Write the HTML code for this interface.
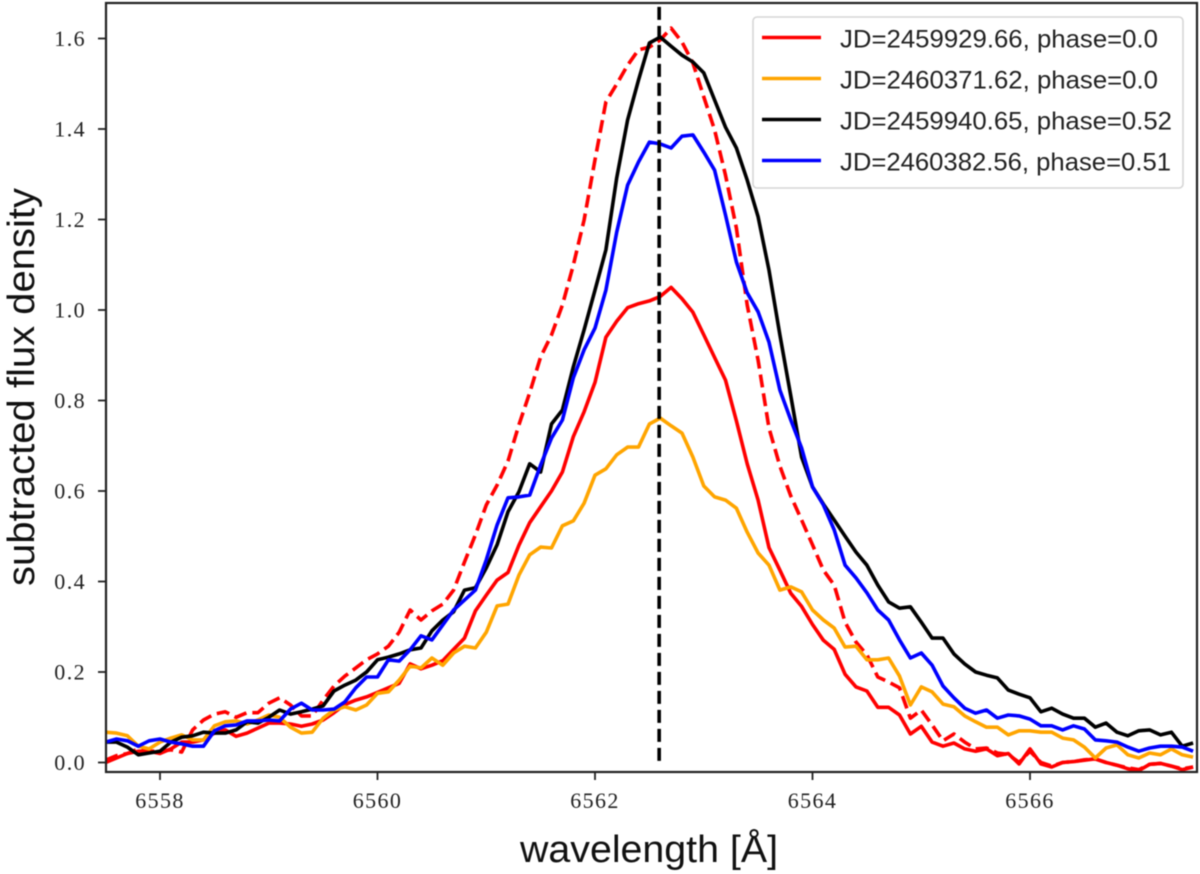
<!DOCTYPE html>
<html lang="en">
<head>
<meta charset="utf-8">
<title>Subtracted flux density vs wavelength</title>
<style>
html,body{margin:0;padding:0;background:#fff;}
#chart{display:block;width:1200px;height:874px;filter:blur(0.45px);}
.tick-label{font-family:"Liberation Serif",serif;font-size:22px;fill:#222;letter-spacing:1.4px;}
.axis-title{font-family:"Liberation Sans",sans-serif;font-size:38px;fill:#111;}
.legend-text{font-family:"Liberation Sans",sans-serif;font-size:25px;fill:#222;}
</style>
</head>
<body>
<svg id="chart" xmlns="http://www.w3.org/2000/svg" width="1200" height="874" viewBox="0 0 1200 874">
  <defs>
    <clipPath id="plot-clip"><rect x="107" y="3" width="1090" height="769"></rect></clipPath>
  </defs>
  <rect x="0" y="0" width="1200" height="874" fill="#fff"></rect>
  <g id="series-layer" clip-path="url(#plot-clip)"></g>
  <rect x="106" y="3" width="1091" height="769" fill="none" stroke="#222" stroke-width="2.2"></rect>
  <g id="x-ticks"></g>
  <g id="y-ticks"></g>
  <text class="axis-title" x="520" y="862" textLength="258" lengthAdjust="spacingAndGlyphs">wavelength [Å]</text>
  <text class="axis-title" transform="translate(34,586) rotate(-90)" x="0" y="0" textLength="398" lengthAdjust="spacingAndGlyphs">subtracted flux density</text>
  <g>
    <rect x="753" y="17" width="430" height="171" rx="4" ry="4" fill="#fff" fill-opacity="0.85" stroke="#d6d6d6" stroke-width="1.6"></rect>
    <g>
      <line x1="762" x2="821" y1="37.5" y2="37.5" stroke="#ff0000" stroke-width="3.6"></line>
      <text class="legend-text" x="840" y="47.5" textLength="318" lengthAdjust="spacingAndGlyphs">JD=2459929.66, phase=0.0</text>
    </g>
    <g>
      <line x1="762" x2="821" y1="78.5" y2="78.5" stroke="#ffa500" stroke-width="3.6"></line>
      <text class="legend-text" x="840" y="88.5" textLength="318" lengthAdjust="spacingAndGlyphs">JD=2460371.62, phase=0.0</text>
    </g>
    <g>
      <line x1="762" x2="821" y1="119.5" y2="119.5" stroke="#000" stroke-width="3.6"></line>
      <text class="legend-text" x="840" y="129.5" textLength="332" lengthAdjust="spacingAndGlyphs">JD=2459940.65, phase=0.52</text>
    </g>
    <g>
      <line x1="762" x2="821" y1="160.5" y2="160.5" stroke="#0000ff" stroke-width="3.6"></line>
      <text class="legend-text" x="840" y="170.5" textLength="331" lengthAdjust="spacingAndGlyphs">JD=2460382.56, phase=0.51</text>
    </g>
  </g>
</svg>
<script>
const wavelengths = [6557.5,6557.6,6557.7,6557.8,6557.9,6558.0,6558.1,6558.2,6558.3,6558.4,
6558.5,6558.6,6558.7,6558.8,6558.9,6559.0,6559.1,6559.2,6559.3,6559.4,
6559.5,6559.6,6559.7,6559.8,6559.9,6560.0,6560.1,6560.2,6560.3,6560.4,
6560.5,6560.6,6560.7,6560.8,6560.9,6561.0,6561.1,6561.2,6561.3,6561.4,
6561.5,6561.6,6561.7,6561.8,6561.9,6562.0,6562.1,6562.2,6562.3,6562.4,
6562.5,6562.6,6562.7,6562.8,6562.9,6563.0,6563.1,6563.2,6563.3,6563.4,
6563.5,6563.6,6563.7,6563.8,6563.9,6564.0,6564.1,6564.2,6564.3,6564.4,
6564.5,6564.6,6564.7,6564.8,6564.9,6565.0,6565.1,6565.2,6565.3,6565.4,
6565.5,6565.6,6565.7,6565.8,6565.9,6566.0,6566.1,6566.2,6566.3,6566.4,
6566.5,6566.6,6566.7,6566.8,6566.9,6567.0,6567.1,6567.2,6567.3,6567.4,6567.5];

const fluxRedDashed = [.005,.015,.02,.03,.025,.025,.028,.023,.072,.094,
.107,.112,.10,.11,.11,.131,.143,.127,.103,.103,
.138,.169,.191,.209,.227,.24,.257,.288,.337,.315,
.335,.35,.381,.443,.503,.569,.613,.666,.746,.817,
.896,.945,1.011,1.099,1.199,1.332,1.46,1.499,1.541,1.575,
1.581,1.597,1.623,1.592,1.546,1.471,1.398,1.298,1.181,1.011,
.889,.739,.655,.589,.536,.481,.425,.392,.31,.266,
.238,.189,.178,.165,.098,.116,.083,.048,.063,.045,
.03,.032,.021,.018,0,.025,0,-.008,0,.002,
.006,.008,0,-.006,-.012,-.016,-.004,-.002,-.008,-.014,-.01];

const fluxRed = [0,.01,.02,.025,.025,.02,.03,.045,.045,.05,
.065,.072,.058,.065,.076,.087,.087,.085,.08,.085,
.094,.11,.128,.138,.145,.155,.165,.175,.218,.207,
.215,.225,.25,.275,.335,.37,.403,.42,.48,.53,
.565,.60,.642,.72,.775,.84,.94,.975,1.005,1.014,
1.02,1.03,1.05,1.025,.995,.945,.895,.845,.755,.66,
.58,.475,.425,.374,.345,.305,.27,.25,.195,.167,
.158,.122,.122,.105,.063,.08,.045,.036,.043,.03,
.025,.03,.015,.02,-.003,.03,-.003,-.01,0,.002,
.005,.008,0,-.006,-.014,-.018,-.004,-.002,-.008,-.016,-.01];

const fluxOrange = [.067,.065,.059,.036,.03,.045,.054,.061,.05,.05,
.081,.09,.092,.085,.094,.105,.10,.078,.065,.067,
.098,.116,.123,.116,.127,.153,.156,.182,.213,.209,
.231,.215,.242,.257,.253,.288,.346,.35,.414,.459,
.476,.474,.523,.534,.573,.635,.649,.68,.697,.697,
.748,.761,.744,.728,.675,.611,.587,.58,.562,.509,
.463,.436,.381,.388,.377,.337,.315,.297,.255,.257,
.227,.227,.231,.191,.127,.167,.156,.129,.123,.103,
.09,.078,.078,.061,.07,.07,.067,.067,.054,.05,
.034,.01,.032,.039,.017,.01,.021,.017,.03,.017,.012];

const fluxBlack = [.045,.045,.034,.017,.021,.025,.045,.056,.059,.067,
.065,.065,.072,.09,.087,.10,.116,.107,.112,.118,
.125,.158,.171,.182,.20,.227,.233,.24,.249,.253,
.291,.315,.333,.381,.386,.43,.481,.554,.598,.66,
.642,.748,.779,.874,.956,1.044,1.133,1.292,1.42,1.508,
1.59,1.603,1.583,1.563,1.548,1.524,1.464,1.404,1.358,1.287,
1.206,1.088,.945,.81,.675,.609,.571,.536,.50,.465,
.436,.392,.355,.341,.344,.31,.275,.275,.24,.218,
.20,.193,.187,.16,.151,.143,.112,.12,.107,.098,
.098,.078,.087,.067,.059,.07,.072,.061,.067,.036,.043];

const fluxBlue = [.045,.052,.048,.036,.048,.052,.045,.041,.036,.036,
.07,.081,.083,.092,.092,.094,.092,.118,.131,.116,
.116,.118,.134,.165,.189,.189,.227,.224,.249,.28,
.271,.304,.337,.359,.381,.448,.525,.585,.587,.591,
.657,.717,.757,.85,.912,.96,1.044,1.172,1.276,1.327,
1.371,1.367,1.358,1.384,1.387,1.349,1.309,1.21,1.106,1.038,
.996,.929,.823,.757,.695,.609,.569,.514,.436,.408,
.375,.337,.315,.271,.231,.242,.215,.169,.143,.12,
.109,.116,.098,.105,.103,.096,.081,.081,.072,.081,
.074,.05,.048,.045,.034,.025,.032,.036,.036,.034,.025];

const xTickValues = [6558,6560,6562,6564,6566];
const yTickValues = [0.0,0.2,0.4,0.6,0.8,1.0,1.2,1.4,1.6];
const restWavelength = [6562.59];

const SVG_NS = 'http://www.w3.org/2000/svg';
function xScale(w){ return 160 + (w - 6558) * 108.75; }
function yScale(v){ return 762.5 - v * 452.5; }

const seriesLayer = document.getElementById('series-layer');
function drawSeries(values, color, name, dash){
  const line = document.createElementNS(SVG_NS, 'polyline');
  
  
  const pts = [];
  for (let i = 0; i < values.length; i++){
    pts.push(xScale(wavelengths[i]).toFixed(1) + ',' + yScale(values[i]).toFixed(1));
  }
  line.setAttribute('points', pts.join(' '));
  line.setAttribute('fill', 'none');
  line.setAttribute('stroke', color);
  line.setAttribute('stroke-width', '3.6');
  line.setAttribute('stroke-linejoin', 'round');
  if (dash) line.setAttribute('stroke-dasharray', dash);
  seriesLayer.appendChild(line);
}
drawSeries(fluxRedDashed, '#ff0000', 'line-jd-2459929-dashed', '13 6');
drawSeries(fluxRed, '#ff0000', 'line-jd-2459929');
drawSeries(fluxOrange, '#ffa500', 'line-jd-2460371');
drawSeries(fluxBlack, '#000000', 'line-jd-2459940');
drawSeries(fluxBlue, '#0000ff', 'line-jd-2460382');

restWavelength.forEach(function(w){
  const v = document.createElementNS(SVG_NS, 'line');
  
  
  v.setAttribute('x1', xScale(w));
  v.setAttribute('x2', xScale(w));
  v.setAttribute('y1', yScale(1.67));
  v.setAttribute('y2', yScale(0));
  v.setAttribute('stroke', '#000');
  v.setAttribute('stroke-width', '3.6');
  v.setAttribute('stroke-dasharray', '13 6');
  seriesLayer.appendChild(v);
});

const xTicks = document.getElementById('x-ticks');
xTickValues.forEach(function(t){
  const m = document.createElementNS(SVG_NS, 'line');
  
  
  m.setAttribute('x1', xScale(t));
  m.setAttribute('x2', xScale(t));
  m.setAttribute('y1', 772);
  m.setAttribute('y2', 780);
  m.setAttribute('stroke', '#222');
  m.setAttribute('stroke-width', '1.8');
  xTicks.appendChild(m);
  const l = document.createElementNS(SVG_NS, 'text');
  
  
  l.setAttribute('class', 'tick-label');
  l.setAttribute('x', xScale(t));
  l.setAttribute('y', 808);
  l.setAttribute('text-anchor', 'middle');
  l.textContent = String(t);
  xTicks.appendChild(l);
});

const yTicks = document.getElementById('y-ticks');
yTickValues.forEach(function(t){
  const m = document.createElementNS(SVG_NS, 'line');
  
  
  m.setAttribute('x1', 98);
  m.setAttribute('x2', 106);
  m.setAttribute('y1', yScale(t));
  m.setAttribute('y2', yScale(t));
  m.setAttribute('stroke', '#222');
  m.setAttribute('stroke-width', '1.8');
  yTicks.appendChild(m);
  const l = document.createElementNS(SVG_NS, 'text');
  
  
  l.setAttribute('class', 'tick-label');
  l.setAttribute('x', 86);
  l.setAttribute('y', yScale(t) + 7.5);
  l.setAttribute('text-anchor', 'end');
  l.textContent = t.toFixed(1);
  yTicks.appendChild(l);
});
</script>
</body>
</html>
